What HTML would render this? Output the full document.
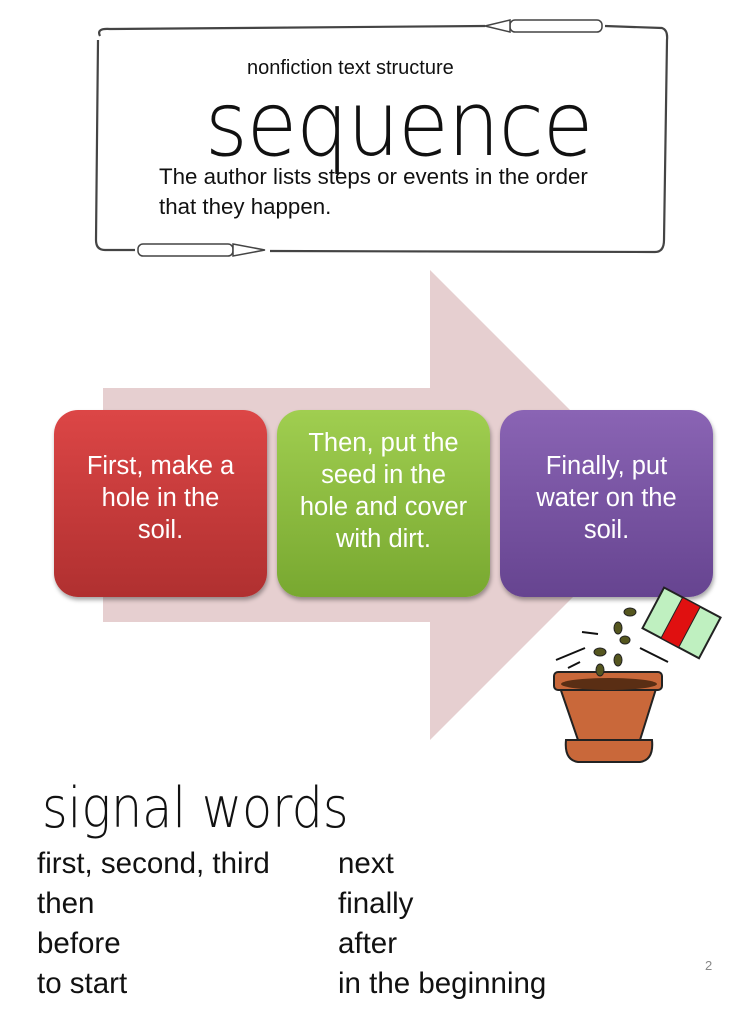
<!DOCTYPE html>
<html><head><style>
body{margin:0;width:745px;height:1024px;background:#fff;position:relative;overflow:hidden;font-family:"Liberation Sans","DejaVu Sans",sans-serif;}
.a{position:absolute;white-space:nowrap;}
.box{position:absolute;border-radius:24px;color:#fff;font-size:25.5px;line-height:32px;text-align:center;display:flex;align-items:center;justify-content:center;box-shadow:1px 3px 4px rgba(0,0,0,.35);}
.sw{font-size:29.5px;color:#111;line-height:40px;}
</style></head><body>
<svg class="a" style="left:0;top:0" width="745" height="1024">
 <path d="M103 388 H430 V270 L665 505 L430 740 V622 H103 Z" fill="#e6cfd0"/>
 <path d="M100 36 Q96 28 110 29 L485 26 M605 26 L662 28 Q668 30 667 40 L664 240 Q664 252 655 252 L270 251 M135 250 L105 250 Q96 250 96 240 L98 40" fill="none" stroke="#444" stroke-width="2.2"/>
 <g stroke="#444" stroke-width="1.5" fill="#fff">
  <rect x="510" y="20" width="92" height="12" rx="5"/>
  <polygon points="510,20 485,26 510,32"/>
  <rect x="138" y="244" width="95" height="12" rx="5"/>
  <polygon points="233,244 265,250 233,256"/>
 </g>
</svg>
<div class="a" style="left:247px;top:57px;font-size:20px;color:#111">nonfiction text structure</div>
<div class="a" style="left:205px;top:72px;font-size:90px;font-family:'DejaVu Sans',sans-serif;font-weight:200;letter-spacing:-1px;transform:scaleX(0.91);transform-origin:left top;color:#111">sequence</div>
<div class="a" style="left:159px;top:162px;font-size:22.3px;line-height:30px;color:#111">The author lists steps or events in the order<br>that they happen.</div>
<div class="box" style="left:54px;top:410px;width:213px;height:187px;background:linear-gradient(#dc4646,#b03030)"><div style="margin-top:-12px">First, make a<br>hole in the<br>soil.</div></div>
<div class="box" style="left:277px;top:410px;width:213px;height:187px;background:linear-gradient(#a0ce50,#78a830)"><div style="margin-top:-26px">Then, put the<br>seed in the<br>hole and cover<br>with dirt.</div></div>
<div class="box" style="left:500px;top:410px;width:213px;height:187px;background:linear-gradient(#8a64b4,#664490)"><div style="margin-top:-12px">Finally, put<br>water on the<br>soil.</div></div>
<svg class="a" style="left:0;top:0" width="745" height="1024">
 <path d="M556 676 L660 676 L640 740 L578 740 Z" fill="#c9683a" stroke="#222" stroke-width="2"/>
 <rect x="554" y="672" width="108" height="18" rx="4" fill="#c9683a" stroke="#222" stroke-width="2"/>
 <ellipse cx="609" cy="684" rx="48" ry="6" fill="#5a2e14"/>
 <path d="M566 740 H652 Q654 760 640 762 H578 Q564 760 566 740 Z" fill="#c9683a" stroke="#222" stroke-width="2"/>
 <g transform="rotate(28 682 622)">
  <rect x="650" y="600" width="64" height="46" fill="#bff0c0" stroke="#222" stroke-width="2"/>
  <rect x="671" y="600" width="20" height="46" fill="#e01010" stroke="#222"/>
 </g>
 <g fill="#55561f" stroke="#222">
  <ellipse cx="630" cy="612" rx="6" ry="4"/><ellipse cx="618" cy="628" rx="4" ry="6"/>
  <ellipse cx="625" cy="640" rx="5" ry="4"/><ellipse cx="600" cy="652" rx="6" ry="4"/>
  <ellipse cx="618" cy="660" rx="4" ry="6"/><ellipse cx="600" cy="670" rx="4" ry="6"/>
 </g>
 <g stroke="#111" stroke-width="2"><line x1="556" y1="660" x2="585" y2="648"/><line x1="568" y1="668" x2="580" y2="662"/><line x1="640" y1="648" x2="668" y2="662"/><line x1="582" y1="632" x2="598" y2="634"/></g>
</svg>
<div class="a" style="left:42px;top:776px;font-size:56px;font-family:'DejaVu Sans',sans-serif;font-weight:200;transform:scaleX(0.88);transform-origin:left top;color:#111">signal words</div>
<div class="a sw" style="left:37px;top:844px">first, second, third<br>then<br>before<br>to start</div>
<div class="a sw" style="left:338px;top:844px">next<br>finally<br>after<br>in the beginning</div>
<div class="a" style="left:705px;top:958px;font-size:13px;color:#888">2</div>
</body></html>
